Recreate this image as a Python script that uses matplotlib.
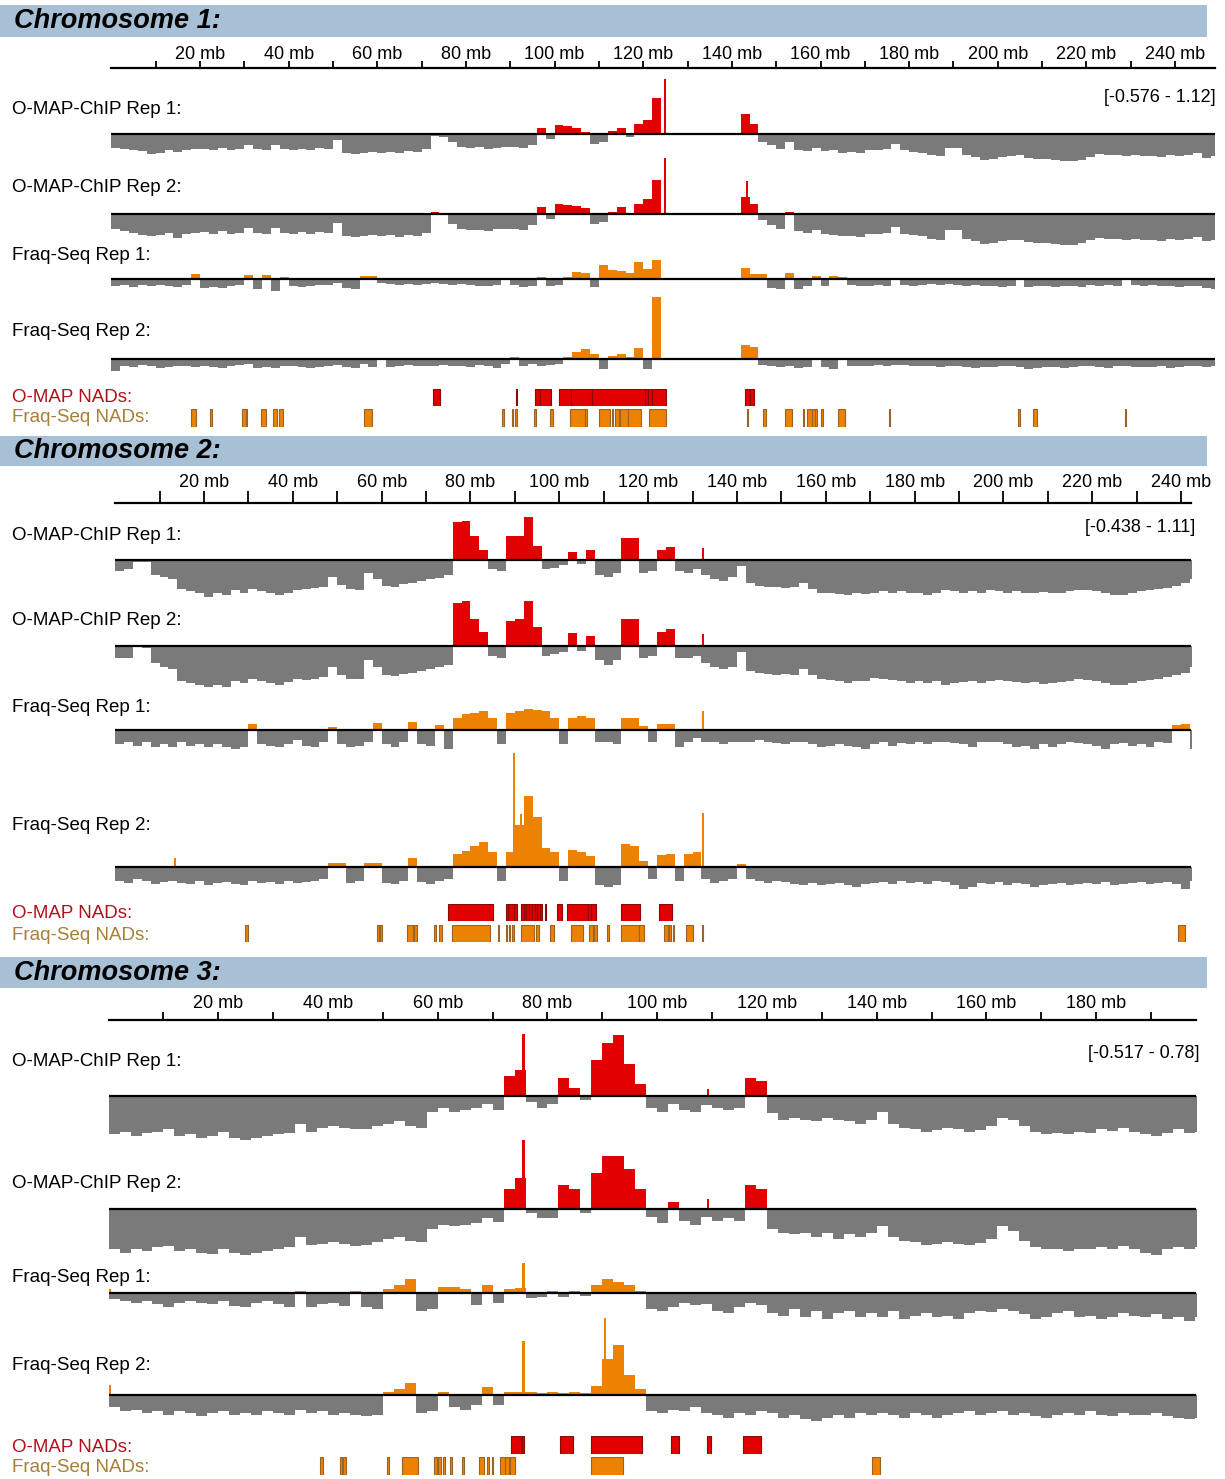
import numpy as np
import matplotlib
matplotlib.use("Agg")
import matplotlib.pyplot as plt

plt.rcParams['font.family'] = ['Liberation Sans', 'DejaVu Sans']

W, H = 1225, 1479
GRAY = "#7a7a7a"
RED = "#e30000"
ORANGE = "#ec8200"
HEADER = "#a7c0d6"

nan = np.nan

# ---- chromosome 1 (2 Mb bins from 0 mb) ----
chr1_len = 248.96
chr1_rep1 = [-0.27, -0.30, -0.32, -0.35, -0.40,  -0.38, -0.33, -0.37, -0.33, -0.30,
             -0.30, -0.32, -0.28, -0.32, -0.30,  -0.22, -0.30, -0.33, -0.22, -0.30,
             -0.33, -0.30, -0.32, -0.28, -0.30,  -0.12, -0.38, -0.40, -0.38, -0.36,
             -0.38, -0.36, -0.38, -0.35, -0.37,  -0.30, -0.03, -0.05, -0.15, -0.25,
             -0.28, -0.26, -0.30, -0.28, -0.25,  -0.25, -0.28, -0.22, 0.12, -0.10,
             0.18, 0.17, 0.12, 0.05, -0.20,  -0.15, 0.06, 0.12, -0.05, 0.20,
             0.30, 0.75, 0.85, nan, nan,  nan, nan, nan, nan, nan,
             nan, 0.41, 0.22, -0.15, -0.22,  -0.30, -0.15, -0.32, -0.34, -0.28,
             -0.35, -0.33, -0.38, -0.36, -0.38,  -0.32, -0.33, -0.30, -0.20, -0.33,
             -0.36, -0.38, -0.42, -0.45, -0.28,  -0.27, -0.42, -0.46, -0.52, -0.50,
             -0.47, -0.44, -0.43, -0.48, -0.50,  -0.50, -0.52, -0.55, -0.55, -0.52,
             -0.46, -0.40, -0.42, -0.42, -0.44,  -0.43, -0.45, -0.44, -0.46, -0.42,
             -0.45, -0.42, -0.38, -0.48, -0.45]
chr1_rep2 = [-0.30, -0.35, -0.38, -0.42, -0.45,  -0.42, -0.38, -0.48, -0.40, -0.38,
             -0.37, -0.40, -0.35, -0.40, -0.38,  -0.28, -0.38, -0.40, -0.28, -0.38,
             -0.40, -0.37, -0.40, -0.36, -0.38,  -0.18, -0.45, -0.46, -0.45, -0.43,
             -0.45, -0.43, -0.46, -0.42, -0.44,  -0.38, 0.04, -0.02, -0.20, -0.30,
             -0.33, -0.32, -0.34, -0.30, -0.30,  -0.30, -0.33, -0.22, 0.14, -0.10,
             0.20, 0.18, 0.16, 0.12, -0.20,  -0.15, 0.05, 0.14, 0.03, 0.22,
             0.32, 0.70, 0.85, nan, nan,  nan, nan, nan, nan, nan,
             nan, 0.35, 0.20, -0.12, -0.22,  -0.30, 0.05, -0.35, -0.38, -0.32,
             -0.40, -0.42, -0.44, -0.45, -0.46,  -0.40, -0.40, -0.38, -0.25, -0.40,
             -0.42, -0.45, -0.50, -0.52, -0.32,  -0.32, -0.50, -0.55, -0.60, -0.58,
             -0.55, -0.52, -0.52, -0.56, -0.58,  -0.58, -0.60, -0.62, -0.62, -0.58,
             -0.52, -0.48, -0.50, -0.50, -0.52,  -0.50, -0.52, -0.52, -0.54, -0.50,
             -0.52, -0.50, -0.46, -0.55, -0.52]
chr1_fraq1 = [-0.14, -0.12, -0.16, -0.13, -0.15,  -0.12, -0.14, -0.16, -0.13, 0.10,
              -0.18, -0.16, -0.18, -0.14, -0.12,  0.08, -0.20, 0.08, -0.25, 0.04,
              -0.15, -0.16, -0.14, -0.12, -0.12,  -0.08, -0.18, -0.20, 0.07, 0.06,
              -0.08, -0.10, -0.12, -0.10, -0.12,  -0.10, -0.08, -0.10, -0.12, -0.10,
              -0.12, -0.14, -0.15, -0.12, 0.03,  -0.12, -0.16, -0.14, 0.05, -0.14,
              -0.12, 0.04, 0.14, 0.12, -0.16,  0.28, 0.18, 0.16, 0.12, 0.35,
              0.20, 0.38, 0.39, nan, nan,  nan, nan, nan, nan, nan,
              nan, 0.22, 0.10, 0.10, -0.18,  -0.20, 0.12, -0.20, -0.15, 0.06,
              -0.14, 0.06, 0.05, -0.12, -0.15,  -0.14, -0.12, -0.15, 0.03, -0.12,
              -0.14, -0.12, -0.10, -0.12, -0.10,  -0.12, -0.14, -0.12, -0.15, -0.14,
              -0.16, -0.14, 0.03, -0.16, -0.14,  -0.15, -0.17, -0.14, -0.14, -0.16,
              -0.12, -0.14, -0.12, -0.14, 0.03,  -0.12, -0.14, -0.12, -0.15, -0.14,
              -0.16, -0.14, -0.14, -0.18, -0.20]
chr1_fraq2 = [-0.25, -0.14, -0.16, -0.13, -0.15,  -0.18, -0.16, -0.14, -0.15, -0.17,
              -0.14, -0.16, -0.18, -0.15, -0.12,  -0.10, -0.18, -0.16, -0.18, -0.15,
              -0.14, -0.16, -0.18, -0.16, -0.14,  -0.12, -0.16, -0.18, -0.10, -0.16,
              0.03, -0.16, -0.15, -0.13, -0.14,  -0.15, -0.14, -0.12, -0.14, -0.15,
              -0.16, -0.12, -0.15, -0.18, -0.10,  0.04, -0.14, -0.10, -0.15, -0.12,
              -0.10, 0.04, 0.15, 0.20, 0.10,  -0.20, 0.06, 0.10, 0.04, 0.22,
              -0.20, 1.27, 1.15, nan, nan,  nan, nan, nan, nan, nan,
              nan, 0.28, 0.25, -0.12, -0.15,  -0.16, -0.14, -0.18, -0.16, 0.03,
              -0.16, -0.20, 0.02, -0.15, -0.14,  -0.14, -0.12, -0.15, -0.13, -0.12,
              -0.14, -0.15, -0.14, -0.16, -0.15,  -0.14, -0.16, -0.18, -0.17, -0.16,
              -0.15, -0.14, -0.16, -0.20, -0.18,  -0.17, -0.16, -0.18, -0.17, -0.15,
              -0.14, -0.16, -0.18, -0.15, -0.14,  -0.16, -0.17, -0.16, -0.15, -0.18,
              -0.16, -0.15, -0.14, -0.17, -0.15]
chr1_spikes = [[(124.9, 1.12)], [(124.9, 1.14), (143.3, 0.67)], [], []]
chr1_omap_nads = [(72.6, 74.1), (91.3, 91.5), (95.6, 96.6), (96.7, 99.1), (101.1, 103.7),
                  (103.7, 108.5), (108.5, 120.4), (120.4, 121.1), (121.1, 122.0),
                  (122.0, 125.1), (143.0, 144.0), (144.0, 145.0)]
chr1_fraq_nads = [(17.9, 19.0), (22.3, 22.8), (29.4, 30.3), (30.3, 30.7), (33.7, 34.9),
                  (36.5, 37.3), (37.9, 38.8), (57.0, 58.7), (88.2, 88.6), (90.3, 90.7),
                  (91.1, 91.6), (95.3, 95.7), (99.0, 99.6), (103.5, 106.8), (106.8, 107.2),
                  (110.1, 112.5), (112.9, 113.2), (113.6, 114.6), (114.7, 116.6),
                  (116.6, 119.6), (121.3, 125.1), (143.4, 143.6), (147.0, 147.8),
                  (152.0, 153.5), (156.0, 156.3), (156.9, 158.0), (158.0, 158.7),
                  (158.7, 159.1), (160.2, 160.5), (163.9, 165.5), (175.4, 175.7),
                  (204.5, 205.0), (208.0, 208.8), (228.6, 228.9)]

# ---- chromosome 2 ----
chr2_len = 242.19
chr2_rep1 = [-0.25, -0.20, -0.05, -0.05, -0.35,  -0.40, -0.45, -0.70, -0.75, -0.80,
             -0.88, -0.80, -0.85, -0.72, -0.80,  -0.70, -0.75, -0.78, -0.85, -0.78,
             -0.72, -0.70, -0.68, -0.65, -0.40,  -0.60, -0.70, -0.72, -0.30, -0.45,
             -0.62, -0.65, -0.58, -0.55, -0.50,  -0.45, -0.42, -0.35, 0.92, 0.95,
             0.60, 0.25, -0.20, -0.25, 0.60,  0.60, 1.05, 0.35, -0.20, -0.18,
             -0.12, 0.20, -0.10, 0.25, -0.35,  -0.40, -0.30, 0.55, 0.55, -0.30,
             -0.25, 0.25, 0.33, -0.25, -0.30,  -0.20, -0.35, -0.45, -0.50, -0.40,
             -0.15, -0.55, -0.62, -0.65, -0.65,  -0.68, -0.65, -0.55, -0.70, -0.78,
             -0.80, -0.82, -0.85, -0.80, -0.82,  -0.78, -0.75, -0.80, -0.75, -0.80,
             -0.78, -0.85, -0.78, -0.72, -0.75,  -0.78, -0.75, -0.78, -0.72, -0.75,
             -0.78, -0.75, -0.80, -0.78, -0.76,  -0.78, -0.80, -0.75, -0.72, -0.72,
             -0.75, -0.80, -0.85, -0.85, -0.80,  -0.75, -0.72, -0.70, -0.68, -0.62,
             -0.55, -0.45]
chr2_rep2 = [-0.30, -0.28, 0.03, -0.05, -0.40,  -0.50, -0.55, -0.85, -0.90, -0.95,
             -1.00, -0.95, -1.00, -0.85, -0.90,  -0.80, -0.85, -0.90, -0.95, -0.88,
             -0.80, -0.82, -0.80, -0.75, -0.50,  -0.70, -0.80, -0.80, -0.35, -0.50,
             -0.70, -0.72, -0.68, -0.65, -0.60,  -0.55, -0.50, -0.45, 1.05, 1.10,
             0.65, 0.35, -0.25, -0.30, 0.60,  0.65, 1.10, 0.45, -0.25, -0.20,
             -0.15, 0.32, -0.12, 0.25, -0.35,  -0.45, -0.35, 0.65, 0.65, -0.30,
             -0.25, 0.35, 0.40, -0.28, -0.30,  -0.25, -0.40, -0.50, -0.55, -0.50,
             -0.15, -0.60, -0.65, -0.68, -0.70,  -0.68, -0.70, -0.55, -0.70, -0.80,
             -0.82, -0.85, -0.90, -0.85, -0.85,  -0.78, -0.80, -0.82, -0.85, -0.90,
             -0.85, -0.90, -0.85, -0.95, -0.90,  -0.88, -0.85, -0.90, -0.85, -0.82,
             -0.85, -0.88, -0.90, -0.88, -0.92,  -0.90, -0.88, -0.85, -0.80, -0.82,
             -0.85, -0.90, -0.95, -0.95, -0.90,  -0.85, -0.82, -0.80, -0.75, -0.70,
             -0.65, -0.50]
chr2_fraq1 = [-0.35, -0.30, -0.38, -0.28, -0.42,  -0.35, -0.40, -0.30, -0.38, -0.35,
              -0.42, -0.35, -0.40, -0.45, -0.40,  0.15, -0.35, -0.38, -0.42, -0.35,
              -0.25, -0.38, -0.40, -0.30, 0.08,  -0.35, -0.42, -0.38, -0.30, 0.18,
              -0.35, -0.40, -0.30, 0.20, -0.35,  -0.38, 0.12, -0.45, 0.30, 0.38,
              0.42, 0.45, 0.30, -0.35, 0.40,  0.45, 0.50, 0.48, 0.45, 0.30,
              -0.35, 0.30, 0.35, 0.30, -0.30,  -0.30, -0.35, 0.28, 0.30, 0.10,
              -0.30, 0.15, 0.15, -0.40, -0.30,  -0.20, -0.30, -0.30, -0.35, -0.30,
              -0.28, -0.30, -0.25, -0.30, -0.32,  -0.35, -0.30, -0.28, -0.35, -0.40,
              -0.38, -0.35, -0.38, -0.40, -0.45,  -0.35, -0.30, -0.38, -0.32, -0.35,
              -0.30, -0.33, -0.30, -0.28, -0.32,  -0.35, -0.42, -0.30, -0.28, -0.30,
              -0.35, -0.40, -0.38, -0.45, -0.35,  -0.40, -0.35, -0.30, -0.32, -0.35,
              -0.38, -0.45, -0.35, -0.32, -0.38,  -0.35, -0.40, -0.30, -0.32, 0.12,
              0.15, -0.45]
chr2_fraq2 = [-0.35, -0.40, -0.30, -0.35, -0.42,  -0.38, -0.35, -0.40, -0.42, -0.35,
              -0.45, -0.40, -0.38, -0.42, -0.45,  -0.35, -0.40, -0.38, -0.42, -0.35,
              -0.40, -0.38, -0.35, -0.30, 0.10,  0.10, -0.40, -0.35, 0.08, 0.08,
              -0.40, -0.42, -0.35, 0.20, -0.38,  -0.42, -0.35, -0.30, 0.30, 0.38,
              0.50, 0.60, 0.35, -0.35, 0.35,  1.00, 1.70, 1.20, 0.45, 0.35,
              -0.35, 0.40, 0.35, 0.25, -0.45,  -0.50, -0.45, 0.55, 0.50, 0.15,
              -0.30, 0.28, 0.30, -0.35, 0.30,  0.35, -0.30, -0.40, -0.35, -0.30,
              0.06, -0.30, -0.35, -0.40, -0.35,  -0.38, -0.42, -0.45, -0.40, -0.45,
              -0.42, -0.40, -0.45, -0.48, -0.42,  -0.40, -0.38, -0.42, -0.35, -0.40,
              -0.38, -0.42, -0.35, -0.38, -0.45,  -0.55, -0.48, -0.40, -0.42, -0.38,
              -0.45, -0.40, -0.42, -0.48, -0.45,  -0.42, -0.40, -0.45, -0.42, -0.40,
              -0.42, -0.38, -0.45, -0.42, -0.40,  -0.38, -0.42, -0.40, -0.38, -0.42,
              -0.55, -0.35]
chr2_spikes = [[(132.3, 0.30), (95.5, 0.20)], [(132.3, 0.28), (95.5, 0.28)],
               [(132.3, 0.45)], [(89.8, 2.76), (91.3, 1.27), (132.3, 1.30), (13.5, 0.22)]]
chr2_omap_nads = [(74.9, 85.1), (87.9, 88.4), (88.4, 89.8), (89.8, 90.5), (91.4, 92.0),
                  (92.0, 92.6), (92.6, 93.1), (93.1, 93.9), (93.9, 94.6), (94.6, 95.0),
                  (95.0, 95.6), (95.6, 96.2), (96.8, 97.0), (99.5, 100.5), (101.8, 106.5),
                  (106.5, 107.1), (107.1, 108.2), (113.8, 118.2), (122.5, 125.3)]
chr2_fraq_nads = [(29.3, 30.0), (59.0, 59.4), (59.7, 60.1), (65.7, 67.1), (67.2, 68.0),
                  (71.7, 72.3), (72.9, 73.6), (75.9, 84.5), (86.3, 86.5), (87.9, 88.3),
                  (88.6, 89.0), (89.4, 89.9), (91.4, 94.3), (94.7, 95.5), (98.0, 98.8),
                  (102.7, 105.4), (106.7, 107.7), (107.8, 108.4), (110.7, 111.2),
                  (114.0, 118.0), (118.0, 119.1), (123.6, 124.4), (124.7, 125.1),
                  (125.5, 125.8), (128.5, 130.0), (132.2, 132.4), (239.3, 240.9)]

# ---- chromosome 3 ----
chr3_len = 198.3
chr3_rep1 = [-0.48, -0.45, -0.50, -0.47, -0.45,  -0.42, -0.50, -0.48, -0.52, -0.50,
             -0.45, -0.52, -0.55, -0.52, -0.50,  -0.48, -0.47, -0.35, -0.45, -0.40,
             -0.38, -0.40, -0.42, -0.42, -0.38,  -0.35, -0.32, -0.38, -0.40, -0.20,
             -0.15, -0.20, -0.18, -0.15, -0.10,  -0.18, 0.25, 0.32, -0.08, -0.15,
             -0.10, 0.22, 0.10, -0.05, 0.45,  0.65, 0.75, 0.40, 0.15, -0.15,
             -0.20, -0.10, -0.18, -0.20, -0.12,  -0.15, -0.18, -0.15, 0.22, 0.18,
             -0.22, -0.30, -0.28, -0.30, -0.32,  -0.28, -0.30, -0.32, -0.35, -0.30,
             -0.20, -0.35, -0.40, -0.42, -0.45,  -0.43, -0.40, -0.42, -0.45, -0.43,
             -0.38, -0.28, -0.30, -0.38, -0.45,  -0.48, -0.47, -0.48, -0.45, -0.47,
             -0.42, -0.44, -0.40, -0.45, -0.48,  -0.50, -0.46, -0.42, -0.46, -0.45]
chr3_rep2 = [-0.50, -0.55, -0.50, -0.52, -0.48,  -0.47, -0.52, -0.50, -0.55, -0.56,
             -0.50, -0.55, -0.57, -0.55, -0.52,  -0.50, -0.48, -0.35, -0.45, -0.44,
             -0.42, -0.44, -0.46, -0.45, -0.42,  -0.38, -0.35, -0.40, -0.42, -0.25,
             -0.20, -0.22, -0.20, -0.18, -0.12,  -0.17, 0.25, 0.38, -0.05, -0.12,
             -0.12, 0.30, 0.25, -0.05, 0.45,  0.65, 0.65, 0.50, 0.25, -0.10,
             -0.18, 0.08, -0.15, -0.20, -0.10,  -0.15, -0.12, -0.15, 0.30, 0.25,
             -0.25, -0.30, -0.32, -0.30, -0.35,  -0.30, -0.38, -0.32, -0.35, -0.30,
             -0.22, -0.35, -0.40, -0.42, -0.45,  -0.44, -0.42, -0.44, -0.45, -0.43,
             -0.38, -0.22, -0.28, -0.40, -0.48,  -0.50, -0.50, -0.52, -0.50, -0.50,
             -0.48, -0.50, -0.47, -0.50, -0.55,  -0.58, -0.50, -0.48, -0.50, -0.48]
chr3_fraq1 = [-0.08, -0.10, -0.12, -0.10, -0.14,  -0.18, -0.12, -0.10, -0.12, -0.14,
              -0.10, -0.16, -0.18, -0.12, -0.10,  -0.14, -0.18, 0.02, -0.18, -0.14,
              -0.12, -0.16, 0.02, -0.18, -0.20,  0.05, 0.10, 0.17, -0.22, -0.20,
              0.08, 0.08, 0.05, -0.15, 0.10,  -0.12, 0.05, 0.06, -0.06, -0.05,
              0.03, -0.05, 0.03, -0.04, 0.10,  0.17, 0.14, 0.10, 0.03, -0.20,
              -0.22, -0.18, -0.12, -0.15, -0.14,  -0.22, -0.25, -0.18, -0.12, -0.15,
              -0.25, -0.28, -0.20, -0.30, -0.22,  -0.32, -0.25, -0.22, -0.30, -0.25,
              -0.30, -0.22, -0.32, -0.28, -0.25,  -0.30, -0.28, -0.32, -0.25, -0.22,
              -0.24, -0.20, -0.22, -0.26, -0.32,  -0.30, -0.25, -0.22, -0.30, -0.28,
              -0.32, -0.30, -0.25, -0.28, -0.30,  -0.26, -0.32, -0.30, -0.35, -0.30]
chr3_fraq2 = [-0.15, -0.20, -0.18, -0.22, -0.20,  -0.24, -0.20, -0.22, -0.26, -0.22,
              -0.20, -0.24, -0.22, -0.25, -0.20,  -0.22, -0.24, -0.18, -0.22, -0.20,
              -0.25, -0.22, -0.24, -0.26, -0.25,  0.04, 0.08, 0.15, -0.22, -0.20,
              0.04, -0.15, -0.18, -0.12, 0.10,  -0.12, 0.04, 0.04, 0.04, 0.03,
              0.04, 0.03, 0.04, 0.03, 0.12,  0.45, 0.62, 0.25, 0.08, -0.20,
              -0.22, -0.18, -0.20, -0.15, -0.22,  -0.25, -0.28, -0.22, -0.25, -0.20,
              -0.22, -0.28, -0.25, -0.30, -0.32,  -0.28, -0.25, -0.28, -0.22, -0.25,
              -0.22, -0.25, -0.28, -0.22, -0.25,  -0.28, -0.24, -0.22, -0.20, -0.25,
              -0.22, -0.20, -0.24, -0.22, -0.26,  -0.28, -0.24, -0.22, -0.25, -0.20,
              -0.24, -0.26, -0.22, -0.24, -0.25,  -0.22, -0.26, -0.28, -0.30, -0.28]
chr3_spikes = [[(75.6, 0.77), (109.3, 0.08)], [(75.6, 0.85), (109.3, 0.12)],
               [(75.6, 0.37), (0.3, 0.05)], [(75.6, 0.67), (90.5, 0.96), (0.3, 0.13)]]
chr3_omap_nads = [(73.3, 75.2), (75.3, 75.7), (82.2, 84.7), (88.0, 97.2), (102.6, 104.0),
                  (109.0, 109.8), (115.7, 119.0)]
chr3_fraq_nads = [(38.5, 39.0), (42.2, 42.5), (42.8, 43.2), (50.7, 51.2), (53.4, 56.4),
                  (59.4, 59.8), (60.1, 60.5), (61.0, 61.3), (62.2, 62.6), (64.4, 64.7),
                  (67.6, 68.4), (68.9, 69.4), (69.9, 70.1), (71.3, 72.2), (72.2, 73.0),
                  (73.2, 74.1), (88.0, 93.8), (139.1, 140.6)]

track_names = ["O-MAP-ChIP Rep 1:", "O-MAP-ChIP Rep 2:", "Fraq-Seq Rep 1:", "Fraq-Seq Rep 2:"]
track_colors = [RED, RED, ORANGE, ORANGE]

# layout of each panel, in pixels
panels = [
    dict(title="Chromosome 1:", length=chr1_len, x0=111.4, xscale=4.432, yscale=49.0,
         tracks=[chr1_rep1, chr1_rep2, chr1_fraq1, chr1_fraq2], spikes=chr1_spikes,
         omap=chr1_omap_nads, fraq=chr1_fraq_nads, rng="[-0.576 - 1.12]",
         header=(5, 37), ruler_y=69, tick_len=5.0, tick_pad=-1.5,
         zeros=[134.3, 214.3, 279, 359],
         labels_y=[110, 187, 255, 332], nad_y=[(389, 406), (409.5, 427)],
         nad_lab=[397, 418], rng_pos=(1216, 97)),
    dict(title="Chromosome 2:", length=chr2_len, x0=115.2, xscale=4.441, yscale=41.3,
         tracks=[chr2_rep1, chr2_rep2, chr2_fraq1, chr2_fraq2], spikes=chr2_spikes,
         omap=chr2_omap_nads, fraq=chr2_fraq_nads, rng="[-0.438 - 1.11]",
         header=(436, 466), ruler_y=504.3, tick_len=8.5, tick_pad=0,
         zeros=[560.3, 646, 730, 866.7],
         labels_y=[535, 620, 707, 825], nad_y=[(904, 921), (924.5, 942)],
         nad_lab=[914, 936], rng_pos=(1195, 528)),
    dict(title="Chromosome 3:", length=chr3_len, x0=108.6, xscale=5.486, yscale=80.4,
         tracks=[chr3_rep1, chr3_rep2, chr3_fraq1, chr3_fraq2], spikes=chr3_spikes,
         omap=chr3_omap_nads, fraq=chr3_fraq_nads, rng="[-0.517 - 0.78]",
         header=(957, 988), ruler_y=1021.3, tick_len=5.8, tick_pad=0,
         zeros=[1095.7, 1208.7, 1293, 1395.3],
         labels_y=[1061, 1183, 1277, 1365], nad_y=[(1436, 1454), (1456.5, 1475)],
         nad_lab=[1447, 1468], rng_pos=(1200, 1054)),
]

fig = plt.figure(figsize=(W / 100, H / 100), dpi=100)


def box(x0, y0, x1, y1):
    return [x0 / W, 1 - y1 / H, (x1 - x0) / W, (y1 - y0) / H]


for p in panels:
    L = p["length"]
    xa, xb = p["x0"], p["x0"] + p["xscale"] * L
    s = p["yscale"]

    # header bar and title
    h0, h1 = p["header"]
    fig.add_artist(plt.Rectangle((0, 1 - h1 / H), 1207 / W, (h1 - h0) / H,
                                 transform=fig.transFigure, color=HEADER, lw=0))
    fig.text(14 / W, 1 - (h0 + h1) / 2 / H, p["title"], fontsize=19.5,
             fontweight="bold", fontstyle="italic", va="center", ha="left")

    # ruler
    ry = p["ruler_y"]
    rax = fig.add_axes(box(xa, ry - 1, xb, ry))
    rax.set_xlim(0, L)
    rax.set_yticks([])
    for sp in ["bottom", "left", "right"]:
        rax.spines[sp].set_visible(False)
    rax.spines["top"].set_linewidth(1.6)
    rax.patch.set_alpha(0)
    rax.xaxis.tick_top()
    major = np.arange(20, L, 20)
    minor = np.arange(10, L, 20)
    rax.set_xticks(major)
    rax.set_xticklabels([f"{int(t)} mb" for t in major], fontsize=13)
    rax.set_xticks(minor, minor=True)
    rax.tick_params(axis="x", which="both", direction="out", length=p["tick_len"],
                    width=1.3, pad=p["tick_pad"], top=True, bottom=False)

    # signal tracks
    for k, vals in enumerate(p["tracks"]):
        y0 = p["zeros"][k]
        lo, hi = -1.2, 3.0
        ax = fig.add_axes(box(xa, y0 - hi * s, xb, y0 - lo * s))
        ax.set_xlim(0, L)
        ax.set_ylim(lo, hi)
        ax.axis("off")
        v = np.array(vals, float)
        edges = np.arange(len(v) + 1) * 2.0
        vv = np.append(v, v[-1])
        neg = np.where(np.isnan(vv), np.nan, np.minimum(vv, 0))
        pos = np.where(np.isnan(vv), np.nan, np.maximum(vv, 0))
        ax.fill_between(edges, neg, 0, step="post", color=GRAY, lw=0)
        ax.fill_between(edges, 0, pos, step="post", color=track_colors[k], lw=0)
        for sx, sv in p["spikes"][k]:
            ax.bar(sx, sv, width=0.45, color=track_colors[k], lw=0)
        ax.axhline(0, color="black", lw=1.6)
        fig.text(12 / W, 1 - p["labels_y"][k] / H, track_names[k], fontsize=13.5,
                 va="center", ha="left")

    rx, ryy = p["rng_pos"]
    fig.text(rx / W, 1 - ryy / H, p["rng"], fontsize=13, ha="right", va="center")

    # NAD rows
    for j, (feats, fc, ec) in enumerate([(p["omap"], RED, "#8a0a0a"),
                                         (p["fraq"], ORANGE, "#9a6428")]):
        n0, n1 = p["nad_y"][j]
        nax = fig.add_axes(box(xa, n0, xb, n1))
        nax.set_xlim(0, L)
        nax.set_ylim(0, 1)
        nax.axis("off")
        nax.broken_barh([(a, b - a) for a, b in feats], (0, 1), facecolors=fc,
                        edgecolors=ec, linewidth=0.8)
    fig.text(12 / W, 1 - p["nad_lab"][0] / H, "O-MAP NADs:", fontsize=13.5,
             color="#b0121c", va="center", ha="left")
    fig.text(12 / W, 1 - p["nad_lab"][1] / H, "Fraq-Seq NADs:", fontsize=13.5,
             color="#a77f36", va="center", ha="left")

fig.savefig("out.png", dpi=100)
